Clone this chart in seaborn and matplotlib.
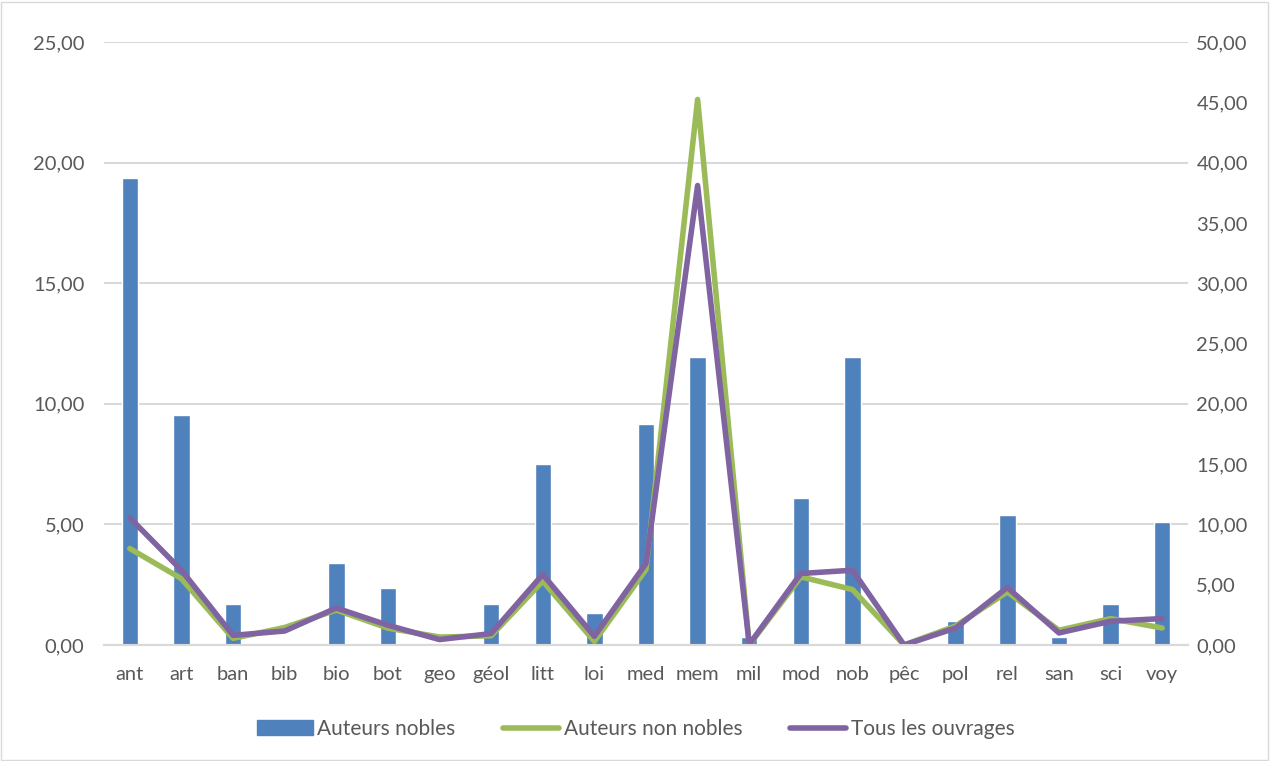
"""Auteurs nobles / non nobles par matière."""

import matplotlib.pyplot as plt
import matplotlib.patches as mpatches
from matplotlib.lines import Line2D
import pandas as pd
import seaborn as sns

BLUE = "#4F81BD"
GREEN = "#9BBB59"
PURPLE = "#8064A2"
GRID = "#D9D9D9"
TEXT = "#595959"

categories = ["ant", "art", "ban", "bib", "bio", "bot", "geo", "géol", "litt",
              "loi", "med", "mem", "mil", "mod", "nob", "pêc", "pol", "rel",
              "san", "sci", "voy"]
nobles = [19.36, 9.54, 1.68, 0.0, 3.38, 2.37, 0.0, 1.68, 7.50,
          1.33, 9.16, 11.94, 0.33, 6.10, 11.94, 0.0, 0.98, 5.41,
          0.32, 1.68, 5.08]
non_nobles = [8.0, 5.5, 0.55, 1.45, 2.9, 1.4, 0.66, 0.76, 5.3,
              0.3, 6.26, 45.24, 0.0, 5.65, 4.6, 0.0, 1.58, 4.4,
              1.22, 2.19, 1.41]
tous = [10.55, 6.2, 0.8, 1.16, 3.07, 1.64, 0.45, 0.95, 5.85,
        0.72, 6.76, 38.1, 0.05, 5.93, 6.2, 0.0, 1.41, 4.77,
        1.0, 1.97, 2.19]

sns.set_theme(style="white")
plt.rcParams["font.family"] = ["Lato", "DejaVu Sans"]

df = pd.DataFrame({"cat": categories, "nobles": nobles,
                   "non_nobles": non_nobles, "tous": tous})
LW = 4

fig = plt.figure(figsize=(12.71, 7.61), dpi=100)
ax = fig.add_axes([104 / 1271, 1 - 645 / 761, 1084 / 1271, 603 / 761])
sns.barplot(data=df, x="cat", y="nobles", color=BLUE, width=0.32,
            saturation=1, ax=ax)
ax.set_ylim(0, 25)
ax.set_yticks(range(0, 26, 5))
ax.set_yticklabels([f"{v},00" for v in range(0, 26, 5)])
ax.yaxis.grid(True, color=GRID, linewidth=1.5)
ax.set_axisbelow(True)

ax2 = ax.twinx()
sns.lineplot(x=list(range(len(categories))), y=non_nobles, color=GREEN,
             linewidth=LW, ax=ax2, sort=False)
sns.lineplot(x=list(range(len(categories))), y=tous, color=PURPLE,
             linewidth=LW, ax=ax2, sort=False)
ax2.set_ylim(0, 50)
ax2.set_yticks(range(0, 51, 5))
ax2.set_yticklabels([f"{v},00" for v in range(0, 51, 5)])
ax.set_xlim(-0.5, len(categories) - 0.5)

for a in (ax, ax2):
    for s in ("top", "left", "right"):
        a.spines[s].set_visible(False)
    a.spines["bottom"].set_color(GRID)
    a.spines["bottom"].set_linewidth(1.5)
    a.tick_params(length=0, labelsize=14.5, colors=TEXT)
    a.set_xlabel("")
    a.set_ylabel("")
ax.tick_params(axis="y", pad=14)
ax2.tick_params(axis="y", pad=6)
ax.tick_params(axis="x", pad=15)

handles = [mpatches.Patch(color=BLUE),
           Line2D([], [], color=GREEN, linewidth=LW),
           Line2D([], [], color=PURPLE, linewidth=LW)]
labels = ["Auteurs nobles", "Auteurs non nobles", "Tous les ouvrages"]
fig.legend(handles, labels, loc="center", bbox_to_anchor=(0.5, 1 - 729 / 761),
           ncol=3, frameon=False, fontsize=15, labelcolor=TEXT,
           handlelength=2.7, handletextpad=0.2, columnspacing=2.3)

fig.patches.append(mpatches.Rectangle((0.001, 0.001), 0.997, 0.997,
                                      transform=fig.transFigure, fill=False,
                                      edgecolor=GRID, linewidth=1))

fig.savefig("out.png", dpi=100)
